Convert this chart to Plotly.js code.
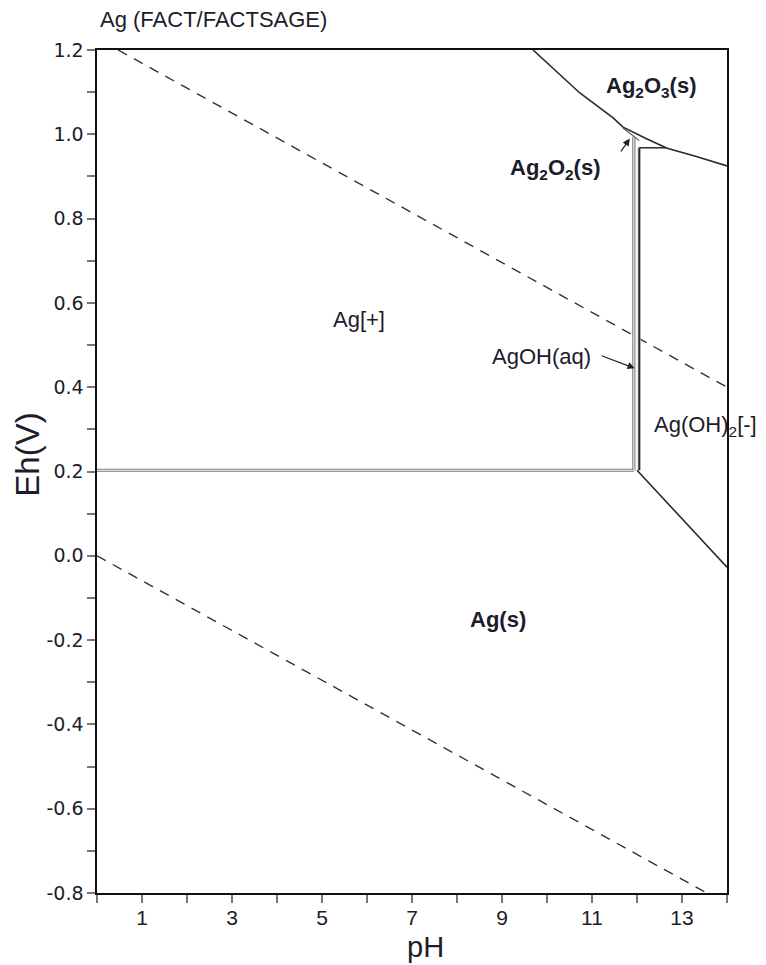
<!DOCTYPE html>
<html>
<head>
<meta charset="utf-8">
<script src="https://cdn.plot.ly/plotly-3.0.1.min.js"></script>
<style>html,body{margin:0;padding:0;background:#fff}#chart{width:766px;height:965px}</style>
</head>
<body>
<div id="chart"></div>
<script>
// ---- data ----
const xTickVals = [0,1,2,3,4,5,6,7,8,9,10,11,12,13,14];
const xTickText = ['','1','','3','','5','','7','','9','','11','','13',''];
const yTickVals = [-0.8,-0.7,-0.6,-0.5,-0.4,-0.3,-0.2,-0.1,0,0.1,0.2,0.3,0.4,0.5,0.6,0.7,0.8,0.9,1.0,1.1,1.2];
const yTickText = ['-0.8','','-0.6','','-0.4','','-0.2','','0.0','','0.2','','0.4','','0.6','','0.8','','1.0','','1.2'];

// water stability lines (dashed)
const o2LinePH = [0.47, 14];
const o2LineEh = [1.20, 0.40];
const h2LinePH = [0, 13.55];
const h2LineEh = [0.0, -0.80];

// phase boundaries
const agPlusAgsPH = [0, 11.93];
const agPlusAgsEh = [0.203, 0.203];
const agPlusAgohPH = [11.93, 11.93];
const agPlusAgohEh = [0.203, 0.994];
const agohAgoh2PH = [12.05, 12.05];
const agohAgoh2Eh = [0.203, 0.968];
const agoh2TopPH = [12.05, 12.65];
const agoh2TopEh = [0.968, 0.968];
const agsAgoh2PH = [12.0, 14];
const agsAgoh2Eh = [0.203, -0.027];
const ag2o3PH = [9.69, 10.73, 11.47, 11.69, 12.2, 12.67, 13.3, 14];
const ag2o3Eh = [1.20, 1.098, 1.039, 1.017, 0.99, 0.967, 0.948, 0.925];
const ag2o2LowPH = [11.69, 11.93, 12.05];
const ag2o2LowEh = [1.015, 0.994, 0.985];

// ---- traces ----
const dark = '#2a2a2a';
function line(x, y, color, width, dash) {
  return {x: x, y: y, type: 'scatter', mode: 'lines', hoverinfo: 'skip',
          line: {color: color, width: width, dash: dash || 'solid'}, showlegend: false};
}
const data = [
  line(o2LinePH, o2LineEh, '#333', 1.4, '10px,8px'),
  line(h2LinePH, h2LineEh, '#333', 1.4, '10px,8px'),
  line(agPlusAgsPH, agPlusAgsEh, '#7a7a7a', 3.2),
  line(agPlusAgsPH, agPlusAgsEh, '#ffffff', 1),
  line(agPlusAgohPH, agPlusAgohEh, '#7a7a7a', 3.2),
  line(agPlusAgohPH, agPlusAgohEh, '#ffffff', 1),
  line(agohAgoh2PH, agohAgoh2Eh, '#9a9a9a', 3),
  line(agohAgoh2PH, agohAgoh2Eh, dark, 1.5),
  line(agoh2TopPH, agoh2TopEh, dark, 1.5),
  line(agsAgoh2PH, agsAgoh2Eh, dark, 1.6),
  line(ag2o3PH, ag2o3Eh, dark, 1.6),
  line(ag2o2LowPH, ag2o2LowEh, '#555', 1.2)
];

const txt = '#1c1c2a';
const fontF = 'Arial, "Liberation Sans", sans-serif';
const wideF = '"DejaVu Sans", sans-serif';
const layout = {
  width: 766, height: 965,
  margin: {l: 97, r: 39, t: 50, b: 72},
  paper_bgcolor: '#fff', plot_bgcolor: '#fff',
  font: {family: fontF, color: txt},
  title: {text: 'Ag (FACT/FACTSAGE)', font: {size: 22, color: txt, family: fontF},
          x: 100/766, xref: 'container', xanchor: 'left', y: 1 - 19/965, yref: 'container', yanchor: 'middle'},
  xaxis: {
    range: [0, 14], tickmode: 'array', tickvals: xTickVals, ticktext: xTickText,
    ticks: 'outside', ticklen: 8, tickwidth: 2, tickcolor: '#777',
    showline: true, linecolor: '#111', linewidth: 1.6, mirror: true,
    showgrid: false, zeroline: false, ticklabelstandoff: -3,
    tickfont: {size: 21, color: txt, family: fontF}
  },
  yaxis: {
    range: [-0.8, 1.2], tickmode: 'array', tickvals: yTickVals, ticktext: yTickText,
    ticks: 'outside', ticklen: 8, tickwidth: 2, tickcolor: '#777',
    showline: true, linecolor: '#111', linewidth: 1.6, mirror: true,
    showgrid: false, zeroline: false,
    tickfont: {size: 19, color: txt, family: wideF}
  },
  annotations: [
    {xref: 'paper', yref: 'y', x: (28 - 97) / 630, y: 0.24, xanchor: 'center', yanchor: 'middle',
     text: 'Eh(V)', textangle: -90, showarrow: false, font: {size: 33, color: txt, family: fontF}},
    {xref: 'x', yref: 'paper', x: 7.3, y: -(947 - 893) / 843, xanchor: 'center', yanchor: 'middle',
     text: 'pH', showarrow: false, borderpad: 0, font: {size: 29, color: txt, family: fontF}},
    {x: 5.82, y: 0.56, text: 'Ag[+]', showarrow: false, font: {size: 22, color: txt}},
    {x: 8.91, y: -0.15, text: '<b>Ag(s)</b>', showarrow: false, font: {size: 22, color: txt}},
    {x: 12.31, y: 1.112, text: '<b>Ag<sub>2</sub>O<sub>3</sub>(s)</b>', showarrow: false, font: {size: 22, color: txt}},
    {x: 10.18, y: 0.918, text: '<b>Ag<sub>2</sub>O<sub>2</sub>(s)</b>', showarrow: false, font: {size: 22, color: txt}},
    {x: 13.53, y: 0.308, text: 'Ag(OH)<sub>2</sub>[-]', showarrow: false, font: {size: 22, color: txt}},
    {x: 9.87, y: 0.474, text: 'AgOH(aq)', showarrow: false, font: {size: 22, color: txt}},
    {x: 11.95, y: 0.445, ax: 11.18, ay: 0.476, axref: 'x', ayref: 'y', text: '', showarrow: true,
     arrowhead: 2, arrowsize: 1.2, arrowwidth: 1.2, arrowcolor: '#222'},
    {x: 11.84, y: 0.99, ax: 11.62, ay: 0.956, axref: 'x', ayref: 'y', text: '', showarrow: true,
     arrowhead: 2, arrowsize: 1.2, arrowwidth: 1.2, arrowcolor: '#222'}
  ]
};

Plotly.newPlot('chart', data, layout, {displayModeBar: false, staticPlot: true});
</script>
</body>
</html>
